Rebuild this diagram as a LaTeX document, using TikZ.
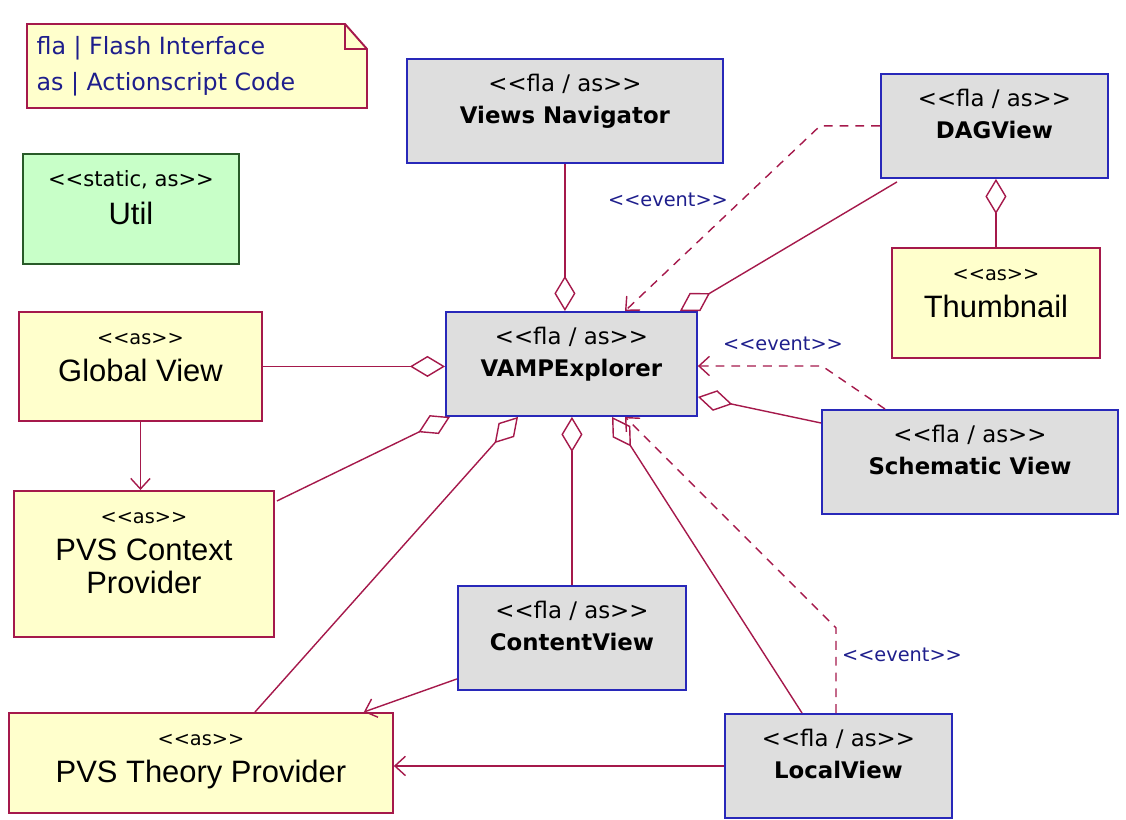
\documentclass[tikz,border=0pt]{standalone}
\usepackage{fontspec}
\usepackage{tikz}
\usetikzlibrary{calc,positioning,arrows.meta}
\newfontfamily\djv{DejaVu Sans}
\newfontfamily\lib{Liberation Sans}
\definecolor{umlred}{RGB}{165,25,75}
\definecolor{umlblue}{RGB}{40,40,185}
\definecolor{umlgray}{RGB}{222,222,222}
\definecolor{umlyellow}{RGB}{255,255,204}
\definecolor{umlgreen}{RGB}{200,255,200}
\definecolor{umldkgreen}{RGB}{40,90,40}
\definecolor{notecol}{RGB}{30,30,140}
\tikzstyle{uml diagram}=[x=0.02cm, y=-0.02cm, line width=0.8pt]
\tikzstyle{class box}=[inner sep=0pt, anchor=north west, line width=1.1pt]
\tikzstyle{fla box}=[class box, draw=umlblue, fill=umlgray]
\tikzstyle{as box}=[class box, draw=umlred, fill=umlyellow]
\tikzstyle{static box}=[class box, draw=umldkgreen, fill=umlgreen]
\tikzstyle{aggr}=[draw=umlred, -{Diamond[fill=white,length=20pt,width=12pt]}]
\tikzstyle{uses}=[draw=umlred, -{Straight Barb[length=6pt,width=11pt]}]
\tikzstyle{event}=[uses, dash pattern=on 5pt off 4pt]
\tikzstyle{event label}=[text=notecol, font=\djv\fontsize{11}{13}\selectfont, inner sep=0pt]
\tikzstyle{note text}=[text=notecol, font=\djv\fontsize{13.5}{16}\selectfont, inner sep=0pt, anchor=base west]
\newcommand{\sopen}{<\kern0pt<}
\newcommand{\sclose}{>\kern0pt>}
\newcommand{\classbox}[4]{\parbox[t][#2cm][t]{#1cm}{\centering\lineskiplimit=-5cm\baselineskip=#3\rule{0pt}{0.66cm}#4}}
\newcommand{\flatext}[1]{{\djv\fontsize{13}{15}\selectfont\sopen fla / as\sclose}\\{\djv\bfseries\fontsize{13}{15}\selectfont #1}}
\newcommand{\astext}[1]{{\djv\fontsize{11}{13}\selectfont\sopen as\sclose}\\{\lib\fontsize{17.6}{21}\selectfont #1}}

\begin{document}
\begin{tikzpicture}[uml diagram]
    \useasboundingbox (0,0) rectangle (1126,820);

    \filldraw[draw=umlred, fill=umlyellow, line width=1.1pt] (27,24) -- (345,24) -- (367,49) -- (367,108) -- (27,108) -- cycle;
    \draw[umlred, line width=1.1pt] (345,24) -- (345,49) -- (367,49);
    \node[note text] (legendfla) at (36,55) {fla | Flash Interface};
    \node[note text] (legendas) at (36,91) {as | Actionscript Code};

    \node[static box] (util) at (22,153) {\classbox{4.32}{2.2}{0.76cm}{{\djv\fontsize{12}{14}\selectfont\sopen static, as\sclose}\\{\lib\fontsize{17.6}{21}\selectfont Util}}};
    \node[fla box] (nav) at (406,58) {\classbox{6.32}{2.08}{0.64cm}{\flatext{Views Navigator}}};
    \node[fla box] (dag) at (880,73) {\classbox{4.54}{2.08}{0.64cm}{\flatext{DAGView}}};
    \node[as box] (thumb) at (891,247) {\classbox{4.16}{2.2}{0.74cm}{\astext{Thumbnail}}};
    \node[fla box] (vamp) at (445,311) {\classbox{5.02}{2.08}{0.64cm}{\flatext{VAMPExplorer}}};
    \node[as box] (global) at (18,311) {\classbox{4.86}{2.18}{0.74cm}{\astext{Global View}}};
    \node[as box] (context) at (13,490) {\classbox{5.2}{2.92}{0.74cm}{\astext{PVS Context\\[-0.08cm]Provider}}};
    \node[as box] (theory) at (8,712) {\classbox{7.68}{2.0}{0.74cm}{\astext{PVS Theory Provider}}};
    \node[fla box] (content) at (457,585) {\classbox{4.56}{2.08}{0.64cm}{\flatext{ContentView}}};
    \node[fla box] (schem) at (821,409) {\classbox{5.92}{2.08}{0.64cm}{\flatext{Schematic View}}};
    \node[fla box] (local) at (724,713) {\classbox{4.54}{2.08}{0.64cm}{\flatext{LocalView}}};

    \node[event label] (eventdag) at (668,200) {\sopen event\sclose};
    \node[event label] (eventschem) at (783,344) {\sopen event\sclose};
    \node[event label] (eventlocal) at (902,655) {\sopen event\sclose};

    \path
        (nav.south) edge[aggr] (nav.south |- vamp.north)
        ($(dag.south west)+(17,3)$) edge[aggr] ($(vamp.north east)+(-18,0)$)
        (thumb.north) edge[aggr] (thumb.north |- dag.south)
        (global.east) edge[aggr] (global.east -| vamp.west)
        ($(context.north east)+(2,11)$) edge[aggr] ($(vamp.south west)+(5,0)$)
        ($(theory.north west)+(247,0)$) edge[aggr] ($(vamp.south west)+(73,0)$)
        (content.north) edge[aggr] (content.north |- vamp.south)
        ($(local.north west)+(78,0)$) edge[aggr] ($(vamp.south west)+(167,0)$)
        ($(schem.north west)+(0,14)$) edge[aggr] ($(vamp.south east)+(0,-20)$)
        (global.south) edge[uses] (global.south |- context.north)
        ($(content.south west)+(0,-12)$) edge[uses] ($(theory.north east)+(-30,0)$)
        (local.west) edge[uses] (local.west -| theory.east)
    ;
    \draw[event] (dag.west) -- ++(-60,0) -- ($(vamp.north west)+(180,0)$);
    \draw[event] ($(schem.north west)+(64,0)$) -- ++(-63,-43) -- ($(vamp.north east)+(0,55)$);
    \draw[event] ($(local.north west)+(112,0)$) -- ++(0,-85) -- ($(vamp.south west)+(180,0)$);
\end{tikzpicture}
\end{document}
